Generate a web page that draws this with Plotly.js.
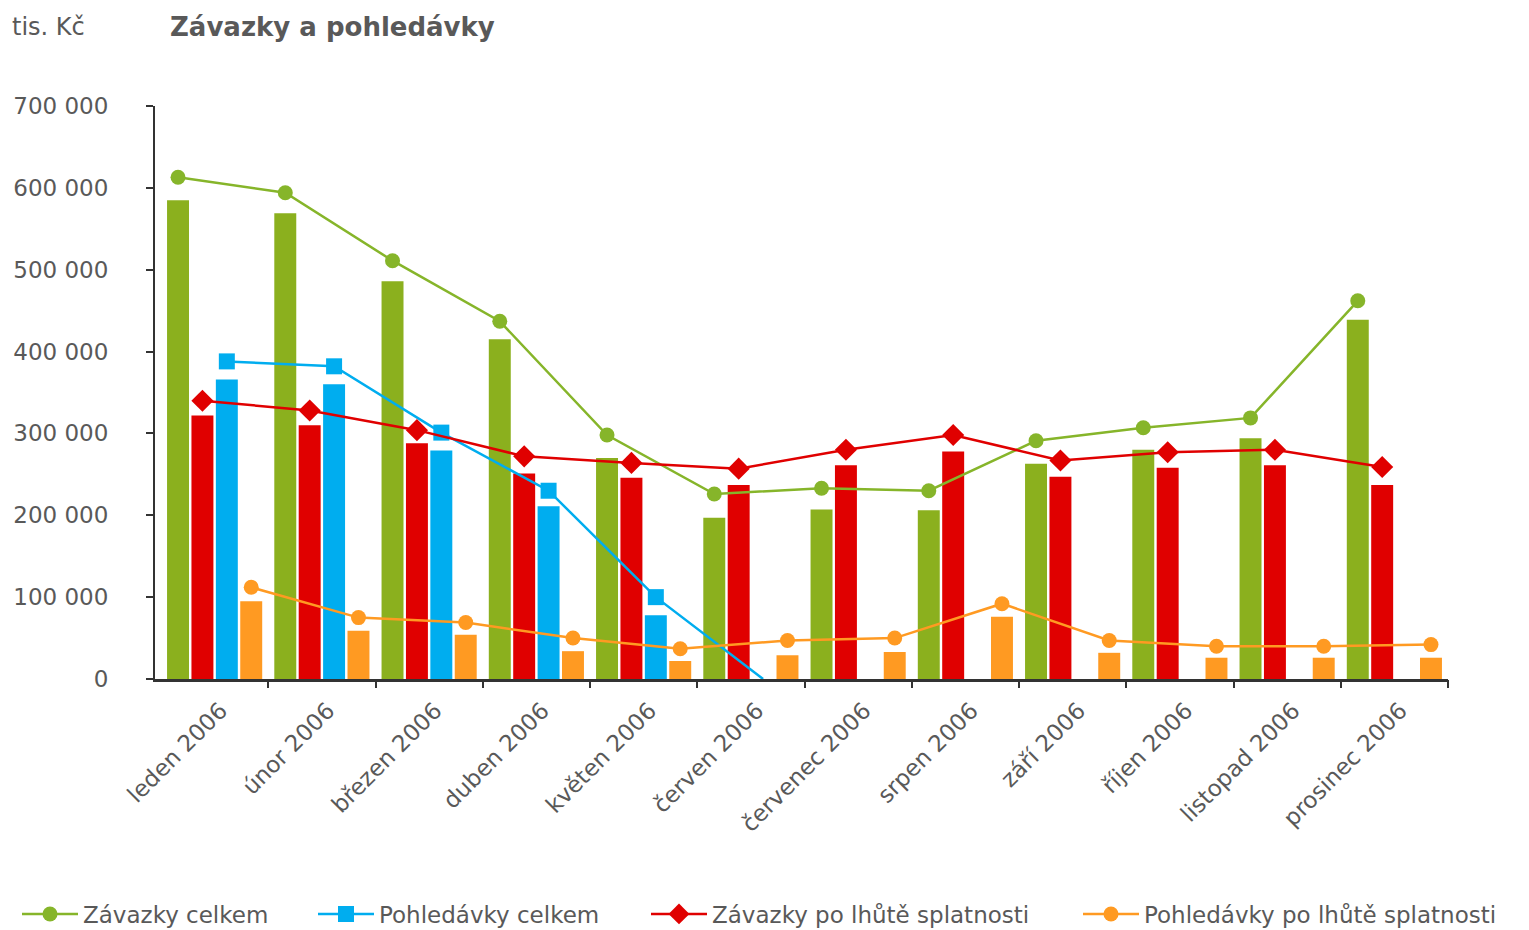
<!DOCTYPE html>
<html>
<head>
<meta charset="utf-8">
<script src="https://cdn.plot.ly/plotly-3.0.1.min.js"></script>
<style>html,body{margin:0;padding:0;background:#fff;}#chart{width:1529px;height:930px;}</style>
</head>
<body>
<div id="chart"></div>
<script>
// ---- data (thousands of CZK) ----
const months = ["leden 2006","únor 2006","březen 2006","duben 2006","květen 2006","červen 2006",
  "červenec 2006","srpen 2006","září 2006","říjen 2006","listopad 2006","prosinec 2006"];

// bars
const barZavazkyCelkem   = [585, 569, 486, 415, 270, 197, 207, 206, 263, 280, 294, 439];
const barZavazkyPoLhute  = [322, 310, 288, 251, 246, 237, 261, 278, 247, 258, 261, 237];
const barPohledavkyCelkem= [366, 360, 279, 211, 78, null, null, null, null, null, null, null];
const barPohledavkyPoLhute=[95, 59, 54, 34, 22, 29, 33, 76, 32, 26, 26, 26];

// lines
const lineZavazkyCelkem   = [613, 594, 511, 437, 298, 226, 233, 230, 291, 307, 319, 462];
const lineZavazkyPoLhute  = [340, 328, 304, 272, 264, 257, 280, 298, 267, 277, 280, 259];
const linePohledavkyCelkem= [388, 382, 301, 230, 100, 0, null, null, null, null, null, null];
const linePohledavkyPoLhute=[112, 75, 69, 50, 37, 47, 50, 92, 47, 40, 40, 42];

const legendNames = ["Závazky celkem","Pohledávky celkem","Závazky po lhůtě splatnosti","Pohledávky po lhůtě splatnosti"];
const chartTitle = "Závazky a pohledávky";
const unitLabel = "tis. Kč";

// ---- styling ----
const K = 1000;
const cGreen = "#8BB01E", cGreenL = "#86B52A", cRed = "#E00000", cBlue = "#00ADEF", cOrange = "#FF9A22";
const FONT = "DejaVu Sans, Verdana, sans-serif";
const textColor = "#595959";
const axisColor = "#333";
const bargap = 0.09, nBars = 4;
const slot = (1 - bargap) / nBars;
const xRange = [-0.556, 11.5];
const plotL = 155, plotR = 1448, plotT = 106, plotB = 679;
const plotW = plotR - plotL, plotH = plotB - plotT;
const scale = a => a.map(v => v == null ? null : v * K);
const idx = months.map((m, i) => i);
const offX = k => idx.map(i => i - 0.5 + bargap / 2 + (k + 0.5) * slot);

function bar(y, color) {
  return {type: "bar", x: months, y: scale(y), marker: {color: color, line: {width: 0}},
    showlegend: false, hoverinfo: "skip"};
}
function line(y, k, color, symbol, size, name, legendId) {
  const shown = idx.filter(i => y[i] != null && y[i] !== 0);
  return {type: "scatter", mode: "lines+markers", xaxis: "x2", x: offX(k), y: scale(y), name: name,
    legend: legendId,
    line: {color: color, width: 2.5}, connectgaps: false,
    marker: {color: color, symbol: symbol, size: size, opacity: 1, line: {width: 0}},
    selectedpoints: shown,
    selected: {marker: {opacity: 1}}, unselected: {marker: {opacity: 0}},
    cliponaxis: true};
}

const data = [
  bar(barZavazkyCelkem, cGreen),
  bar(barZavazkyPoLhute, cRed),
  bar(barPohledavkyCelkem, cBlue),
  bar(barPohledavkyPoLhute, cOrange),
  line(lineZavazkyCelkem, 0, cGreenL, "circle", 15, legendNames[0], "legend"),
  line(linePohledavkyCelkem, 2, cBlue, "square", 16, legendNames[1], "legend2"),
  line(lineZavazkyPoLhute, 1, cRed, "diamond", 17, legendNames[2], "legend3"),
  line(linePohledavkyPoLhute, 3, cOrange, "circle", 15, legendNames[3], "legend4")
];

const legendTextX = [84, 380, 713, 1145];
function legendAt(px) {
  return {orientation: "h", x: (px - 67 - plotL) / plotW, xanchor: "left",
    y: -(914 - plotB) / plotH, yanchor: "middle", itemwidth: 56,
    font: {family: FONT, size: 23, color: textColor}, bgcolor: "rgba(0,0,0,0)", borderwidth: 0};
}

const layout = {
  width: 1529, height: 930,
  margin: {l: plotL, r: 1529 - plotR, t: plotT, b: 930 - plotB, pad: 0, autoexpand: false},
  paper_bgcolor: "#fff", plot_bgcolor: "#fff",
  separators: ", ",
  font: {family: FONT, size: 23, color: textColor},
  barmode: "group", bargap: bargap, bargroupgap: 0.1,
  title: {text: "<b>" + chartTitle + "</b>", xref: "container", yref: "container",
    x: 170 / 1529, xanchor: "left", y: 1 - 27 / 930, yanchor: "middle",
    font: {family: FONT, size: 26, color: textColor}},
  annotations: [{text: unitLabel, xref: "paper", yref: "paper", x: (10 - plotL) / plotW, xanchor: "left",
    y: 1 + (plotT - 27) / plotH, yanchor: "middle", showarrow: false,
    font: {family: FONT, size: 24, color: textColor}}],
  xaxis: {type: "category", range: xRange, ticks: "", showline: true, linecolor: axisColor, linewidth: 3,
    showgrid: false, zeroline: false, tickangle: -45, ticklabelshift: 6, ticklabelstandoff: 6,
    tickfont: {family: FONT, size: 23, color: textColor}, fixedrange: true},
  xaxis2: {overlaying: "x", anchor: "y", side: "bottom", range: xRange, tickmode: "array",
    tickvals: idx.map(i => i + 0.5), showticklabels: false, ticks: "outside", ticklen: 8, tickwidth: 2,
    tickcolor: axisColor, showline: false, showgrid: false, zeroline: false, fixedrange: true},
  yaxis: {range: [0, 700000], dtick: 100000, tick0: 0, tickformat: ",d", ticks: "outside", ticklen: 7, tickwidth: 2,
    tickcolor: axisColor, showline: true, linecolor: axisColor, linewidth: 2, showgrid: false, zeroline: false,
    ticklabelstandoff: 33, tickfont: {family: FONT, size: 23, color: textColor}, fixedrange: true},
  legend: legendAt(legendTextX[0]),
  legend2: legendAt(legendTextX[1]),
  legend3: legendAt(legendTextX[2]),
  legend4: legendAt(legendTextX[3]),
  showlegend: true
};

Plotly.newPlot("chart", data, layout, {displayModeBar: false, staticPlot: true});
</script>
</body>
</html>
